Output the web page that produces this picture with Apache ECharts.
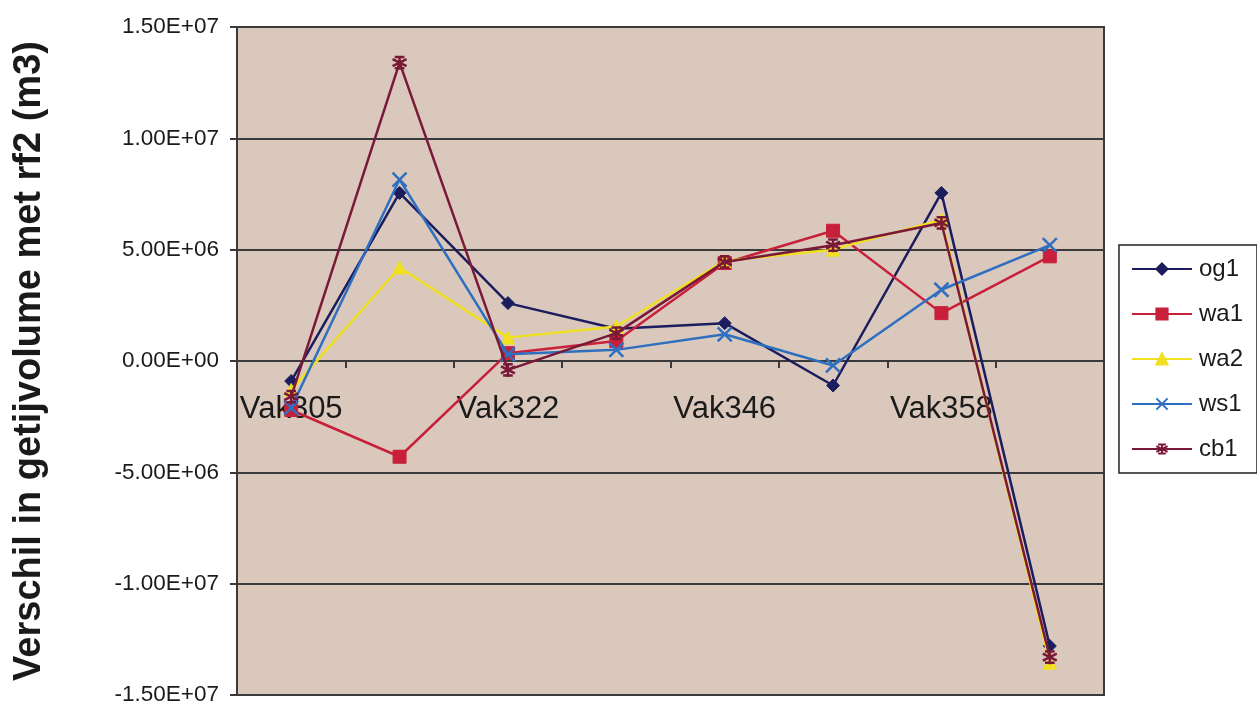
<!DOCTYPE html>
<html>
<head>
<meta charset="utf-8">
<script src="https://cdn.jsdelivr.net/npm/echarts@6/dist/echarts.min.js"></script>
<style>
html,body{margin:0;padding:0;background:#ffffff;}
#chart{width:1257px;height:710px;}
</style>
</head>
<body>
<div id="chart"></div>
<script>
const categories = ['Vak305', '', 'Vak322', '', 'Vak346', '', 'Vak358', ''];
const yTicks = { min: -1.5e7, max: 1.5e7, interval: 5e6 };
const og1 = [-0.9e6, 7.55e6, 2.6e6, 1.45e6, 1.7e6, -1.1e6, 7.55e6, -12.8e6];
const wa1 = [-2.2e6, -4.3e6, 0.35e6, 0.9e6, 4.4e6, 5.85e6, 2.15e6, 4.7e6];
const wa2 = [-1.3e6, 4.2e6, 1.05e6, 1.55e6, 4.5e6, 5.0e6, 6.35e6, -13.55e6];
const ws1 = [-2.1e6, 8.15e6, 0.3e6, 0.5e6, 1.2e6, -0.2e6, 3.2e6, 5.2e6];
const cb1 = [-1.6e6, 13.4e6, -0.4e6, 1.25e6, 4.45e6, 5.2e6, 6.2e6, -13.3e6];
const seriesNames = ['og1', 'wa1', 'wa2', 'ws1', 'cb1'];

const colors = ['#1c1d5e', '#c8203a', '#f0e020', '#2f6fc0', '#7a1838'];
const starPath = 'path://M0,-10L0,10M-8.66,-5L8.66,5M-8.66,5L8.66,-5M-6,-8L6,-8M-6,8L6,8';
const xPath = 'path://M-10,-10L10,10M-10,10L10,-10';
const symbols = ['diamond', 'rect', 'triangle', xPath, starPath];
const sizes = [13, 13, 13, 14, 14];
const dataSets = [og1, wa1, wa2, ws1, cb1];

function fmt(v) {
  if (v === 0) return '0.00E+00';
  const s = v < 0 ? '-' : '';
  const a = Math.abs(v);
  const e = Math.floor(Math.log10(a) + 1e-9);
  const m = a / Math.pow(10, e);
  return s + m.toFixed(2) + 'E+' + (e < 10 ? '0' + e : e);
}

const GRID_TOP = 27, GRID_BOTTOM = 15, H = 710;
const plotH = H - GRID_TOP - GRID_BOTTOM;
const zeroOffset = plotH * (0 - yTicks.min) / (yTicks.max - yTicks.min);

const chart = echarts.init(document.getElementById('chart'));
const series = seriesNames.map((n, i) => {
  const isPath = i >= 3;
  return {
    name: n,
    type: 'line',
    data: dataSets[i],
    symbol: symbols[i],
    symbolSize: sizes[i],
    lineStyle: { color: colors[i], width: 2.5 },
    itemStyle: isPath
      ? { color: 'transparent', borderColor: colors[i], borderWidth: 2.5 }
      : { color: colors[i], borderColor: colors[i], borderWidth: 1 },
    z: 2 + i,
    animation: false
  };
});

chart.setOption({
  backgroundColor: '#ffffff',
  animation: false,
  color: colors,
  grid: { left: 237, right: 153, top: GRID_TOP, bottom: GRID_BOTTOM, containLabel: false, outerBoundsMode: 'none',
          show: true, backgroundColor: '#dac8bc', borderColor: '#3a3a3a', borderWidth: 2 },
  legend: {
    orient: 'vertical',
    right: 0,
    top: 245,
    width: 135,
    itemWidth: 60,
    itemHeight: 14,
    itemGap: 21,
    padding: [12, 14, 12, 12],
    backgroundColor: '#ffffff',
    borderColor: '#222222',
    borderWidth: 1.5,
    textStyle: { fontFamily: 'Liberation Sans, Arial, sans-serif', fontSize: 24, color: '#1a1a1a', padding: [0, 0, 0, 2] },
    data: seriesNames
  },
  xAxis: {
    type: 'category',
    data: categories,
    boundaryGap: true,
    position: 'bottom',
    offset: -zeroOffset,
    axisLine: { onZero: false, lineStyle: { color: '#3a3a3a', width: 2 } },
    axisTick: { show: true, interval: 0, length: 7, inside: false, lineStyle: { color: '#3a3a3a', width: 2 } },
    axisLabel: { interval: 1, margin: 33, fontFamily: 'Liberation Sans, Arial, sans-serif', fontSize: 31, color: '#1a1a1a' },
    splitLine: { show: false }
  },
  yAxis: {
    type: 'value',
    min: yTicks.min,
    max: yTicks.max,
    interval: yTicks.interval,
    name: 'Verschil in getijvolume met rf2 (m3)',
    nameLocation: 'middle',
    nameGap: 188,
    nameRotate: 90,
    nameTextStyle: { fontFamily: 'Liberation Sans, Arial, sans-serif', fontSize: 38, fontWeight: 'bold', color: '#1a1a1a' },
    axisLine: { show: true, lineStyle: { color: '#3a3a3a', width: 2 } },
    axisTick: { show: true, length: 7, lineStyle: { color: '#3a3a3a', width: 2 } },
    axisLabel: { formatter: fmt, margin: 18, fontFamily: 'Liberation Sans, Arial, sans-serif', fontSize: 22.5, color: '#1a1a1a' },
    splitLine: { show: true, lineStyle: { color: '#3a3a3a', width: 2 } }
  },
  series: series
});
</script>
</body>
</html>
